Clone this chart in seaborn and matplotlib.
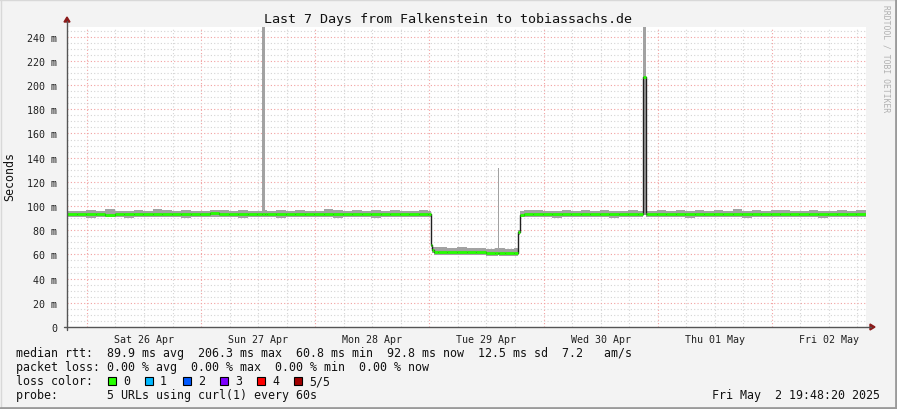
import matplotlib
matplotlib.use("Agg")
import matplotlib.pyplot as plt
import seaborn as sns
from matplotlib.patches import Rectangle, Polygon
from matplotlib.lines import Line2D

sns.set_style("white")
plt.rcParams['font.family'] = ['DejaVu Sans Mono']

# ---------------- data (hours since Fri Apr 25 19:48:20) ----------------
hours = [0, 2, 4, 6, 8, 10, 12, 14, 16, 18, 20, 22, 24, 26, 28, 30, 32, 34, 36, 38, 40,
         40.9, 41.6,
         42, 44, 46, 48, 50, 52, 54, 56, 58, 60, 62, 64, 66, 68, 70, 72, 74, 76,
         76.6, 76.85,
         77.1, 78, 80, 82, 84, 86, 88, 90,
         90.6, 90.85,
         92, 94,
         94.9,
         95.15, 96, 98, 100, 102, 104, 106, 108, 110, 112, 114, 116, 118, 120,
         121.15,
         121.75, 122, 124, 126, 128, 130, 132, 134, 136, 138, 140, 142, 144, 146, 148,
         150, 152, 154, 156, 158, 160, 162, 164, 166,
         168]

median_ms = [93.6, 93.2, 93.8, 93.4, 93.0, 93.5, 93.7, 93.3, 93.6, 93.1, 93.4, 93.8, 93.5, 93.2,
             93.6, 93.9, 93.3, 93.5, 93.7, 93.2, 93.4,
             93.6, 93.3,
             93.5, 93.2, 93.7, 93.4, 93.6, 93.1, 93.3, 93.8, 93.5, 93.2, 93.6, 93.4, 93.7, 93.3,
             93.5, 93.2, 93.6, 93.4,
             68.0, 63.5,
             62.3, 62.0, 62.4, 61.8, 62.2, 61.6, 61.4, 61.5,
             61.5, 61.4,
             61.3, 61.5,
             78.5,
             93.0, 93.4, 93.6, 93.2, 93.5, 93.8, 93.3, 93.6, 93.4, 93.1, 93.5, 93.7, 93.3, 93.5,
             206.3,
             93.4, 93.2, 93.6, 93.3, 93.5, 93.7, 93.2, 93.4, 93.6, 93.1, 93.5, 93.3, 93.8, 93.4,
             93.2, 93.6, 93.5, 93.3, 93.7, 93.4, 93.2, 93.5, 93.6, 93.3,
             92.8]

smoke_lo = [90.6, 90.8, 90.4, 91.0, 90.7, 90.9, 90.5, 90.8, 90.6, 91.1, 90.7, 90.8, 90.5, 90.9,
            90.6, 90.8, 90.7, 91.0, 90.4, 90.8, 90.6,
            90.8, 90.7,
            90.8, 90.5, 91.0, 90.7, 90.9, 90.6, 90.8, 90.4, 90.9, 90.7, 90.8, 90.5, 91.0, 90.6,
            90.8, 90.7, 90.9, 90.6,
            66.5, 61.0,
            59.6, 59.4, 59.8, 59.3, 59.6, 59.2, 59.0, 59.1,
            59.2, 59.1,
            59.0, 59.1,
            76.0,
            90.6, 90.8, 90.7, 90.9, 90.5, 90.8, 90.6, 91.0, 90.7, 90.8, 90.4, 90.9, 90.7, 90.8,
            93.0,
            90.8, 90.6, 90.9, 90.7, 90.8, 90.5, 91.0, 90.7, 90.8, 90.6, 90.9, 90.4, 90.8, 90.7,
            91.0, 90.6, 90.8, 90.7, 90.9, 90.5, 90.8, 90.7, 90.9, 90.6,
            90.8]

smoke_hi = [96.2, 95.8, 96.8, 96.0, 97.5, 96.3, 95.9, 96.6, 96.1, 97.2, 96.4, 95.9, 96.7, 96.2,
            96.0, 96.5, 96.9, 96.1, 96.4, 96.0, 96.3,
            260.0, 96.4,
            96.2, 96.6, 96.0, 96.9, 96.3, 96.1, 97.6, 96.4, 96.0, 96.7, 96.2, 96.5, 96.1, 96.8,
            96.3, 96.0, 96.5, 96.2,
            70.0, 66.0,
            65.8, 66.2, 65.6, 66.0, 65.4, 65.1, 64.8, 65.0,
            131.5, 64.9,
            64.8, 65.1,
            80.0,
            96.0, 96.4, 96.8, 96.1, 96.3, 97.0, 96.2, 96.5, 96.0, 96.6, 96.3, 96.1, 96.7, 96.2,
            250.0,
            96.3, 96.0, 96.6, 96.2, 96.9, 96.1, 96.4, 96.0, 96.7, 96.3, 97.8, 96.2, 96.5, 96.0,
            96.4, 96.8, 96.1, 96.3, 96.6, 96.0, 96.2, 96.5, 96.1, 96.4,
            96.2]

y_ticks = [0, 20, 40, 60, 80, 100, 120, 140, 160, 180, 200, 220, 240]
y_tick_labels = ["0", "20 m", "40 m", "60 m", "80 m", "100 m", "120 m", "140 m",
                 "160 m", "180 m", "200 m", "220 m", "240 m"]
day_labels = ["Sat 26 Apr", "Sun 27 Apr", "Mon 28 Apr", "Tue 29 Apr",
              "Wed 30 Apr", "Thu 01 May", "Fri 02 May"]

title = "Last 7 Days from Falkenstein to tobiassachs.de"
legend_lines = [
    "median rtt:  89.9 ms avg  206.3 ms max  60.8 ms min  92.8 ms now  12.5 ms sd  7.2   am/s",
    "packet loss: 0.00 % avg  0.00 % max  0.00 % min  0.00 % now",
    "loss color:",
    "probe:       5 URLs using curl(1) every 60s",
]
loss_colors = ["#26ff00", "#00b8ff", "#0059ff", "#7e00ff", "#ff0000", "#a10000"]
loss_names = ["0", "1", "2", "3", "4", "5/5"]
stamp = "Fri May  2 19:48:20 2025"

# ---------------- figure ----------------
W, H = 897, 410
fig = plt.figure(figsize=(W / 100, H / 100), dpi=100)
fig.patch.set_facecolor("#f3f3f3")


def fx(x):
    return x / W


def fy(y):
    return 1 - y / H


L, R, T, B = 67, 866, 28, 328
ax = fig.add_axes([fx(L), fy(B), (R - L) / W, (B - T) / H])
ax.set_facecolor("white")
ax.set_xlim(0, 168)
ax.set_ylim(0, 248)
for s in ax.spines.values():
    s.set_visible(False)

midnight0 = 4 + 11 / 60 + 40 / 3600
# grid
for k in range(0, 28):
    xv = midnight0 + 6 * k
    major = (k % 4 == 0)
    ax.axvline(xv, color="#f2a0a0" if major else "#d4d4d4", lw=0.8,
               ls=(0, (1, 2)), zorder=0)
for yv in range(5, 250, 5):
    major = (yv % 20 == 0)
    ax.axhline(yv, color="#f2a0a0" if major else "#d4d4d4", lw=0.8,
               ls=(0, (1, 2)), zorder=0)

# smoke
ax.fill_between(hours, smoke_lo, smoke_hi, step="post", color="#a2a2a2", lw=0, zorder=2)
# median (black step line + green level segments)
sns.lineplot(x=hours, y=median_ms, ax=ax, drawstyle="steps-post", color="#202020",
             lw=1.0, estimator=None, sort=False, zorder=3)
ax.hlines(median_ms[:-1], hours[:-1], hours[1:], color="#26ff00", lw=2.0, zorder=4)

ax.set_yticks(y_ticks)
ax.set_yticklabels(y_tick_labels)
ax.set_xticks([midnight0 + 12 + 24 * k for k in range(7)])
ax.set_xticklabels(day_labels)
ax.tick_params(axis="both", length=0, labelsize=7.2, colors="#202020")
ax.tick_params(axis="y", pad=7)
ax.tick_params(axis="x", pad=5)
ax.set_xlabel("")
ax.set_ylabel("")

# axes lines with arrows
axis_col = "#555555"
arrow_col = "#8b1a1a"
fig.add_artist(Line2D([fx(L), fx(L)], [fy(B + 3), fy(22)], color=axis_col, lw=1))
fig.add_artist(Line2D([fx(L - 3), fx(871)], [fy(B), fy(B)], color=axis_col, lw=1))
fig.add_artist(Polygon([(fx(L - 3), fy(23)), (fx(L + 3), fy(23)), (fx(L), fy(18))],
                       closed=True, color=arrow_col))
fig.add_artist(Polygon([(fx(870), fy(B - 3)), (fx(870), fy(B + 3)), (fx(875), fy(B))],
                       closed=True, color=arrow_col))

# texts
fig.text(fx(448), fy(19), title, ha="center", va="center", fontsize=9.6, color="#111111")
fig.text(fx(10), fy(177), "Seconds", rotation=90, ha="center", va="center",
         fontsize=8.4, color="#111111")
fig.text(fx(886), fy(5), "RRDTOOL / TOBI OETIKER", rotation=270, ha="center", va="top",
         fontsize=5.8, color="#b0b0b0")

rows_y = [354, 368, 382, 396]
for txt, yy in zip(legend_lines, rows_y):
    fig.text(fx(16), fy(yy), txt, ha="left", va="center", fontsize=8.4, color="#111111")

sq_x = [108, 145, 183, 220, 257, 294]
for c, name, xs in zip(loss_colors, loss_names, sq_x):
    fig.add_artist(Rectangle((fx(xs), fy(386)), 8 / W, 8 / H, facecolor=c,
                             edgecolor="black", lw=0.8))
    fig.text(fx(xs + 15), fy(382), name, ha="left", va="center", fontsize=8.4,
             color="#111111")

fig.text(fx(880), fy(396), stamp, ha="right", va="center", fontsize=8.4, color="#111111")

# frame
fig.add_artist(Line2D([0, 1], [fy(0.5), fy(0.5)], color="#d8d8d8", lw=1))
fig.add_artist(Line2D([fx(0.5), fx(0.5)], [0, 1], color="#d8d8d8", lw=1))
fig.add_artist(Line2D([0, 1], [fy(409), fy(409)], color="#9a9a9a", lw=2))
fig.add_artist(Line2D([fx(896), fx(896)], [0, 1], color="#9a9a9a", lw=2))

fig.savefig("out.png", dpi=100, facecolor=fig.get_facecolor())
